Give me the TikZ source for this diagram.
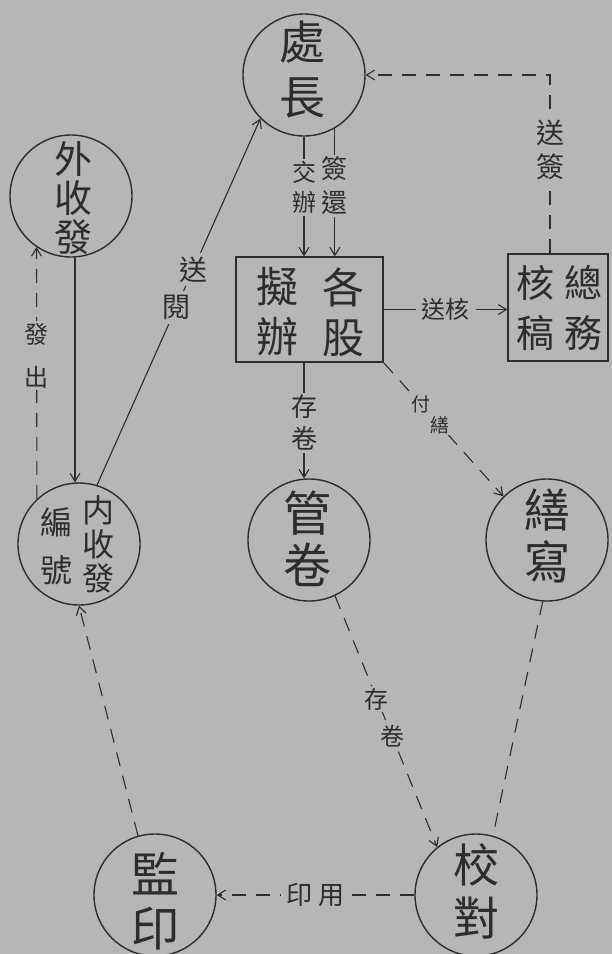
\documentclass[tikz,border=0pt]{standalone}
\usepackage{fontspec}
\newfontfamily\cjk{Noto Sans CJK TC}
\usetikzlibrary{arrows.meta}
\definecolor{bg}{RGB}{182,182,180}
\definecolor{inkc}{RGB}{45,45,45}
\tikzset{
  fz/.style 2 args={font=\cjk\fontsize{#1}{#2}\selectfont},
  ink/.style={draw=inkc, line width=1.1pt},
  circ/.style={circle, draw=inkc, line width=1.4pt, minimum size=122pt, inner sep=0pt},
  boxn/.style={rectangle, draw=inkc, line width=1.4pt, inner sep=0pt},
  txt/.style={text=inkc, inner sep=0pt, align=center},
  lbl/.style={fill=bg, text=inkc, inner sep=2pt, align=center},
  arr/.style={-{Straight Barb[length=8pt,width=10pt,line width=1.1pt]}},
  dsh/.style={dash pattern=on 14pt off 10pt},
}
\begin{document}
\begin{tikzpicture}[x=1pt,y=-1pt]
\fill[bg] (0,0) rectangle (612,954);
\useasboundingbox (0,0) rectangle (612,954);
\clip (0,0) rectangle (612,954);

% nodes
\node[circ] (chu) at (304,75) {};
\node[txt, fz={46}{55}] (chuT) at (302,70) {處\\長};

\node[circ] (wai) at (71,196) {};
\node[txt, fz={38}{39}] (waiT) at (73,198) {外\\收\\發};

\node[circ] (nei) at (79,544) {};
\node[txt, fz={32}{34}] (neiA) at (98,544) {内\\收\\發};
\node[txt, fz={32}{48}] (neiB) at (56,546) {編\\號};

\node[boxn, minimum width=147pt, minimum height=105pt] (gegu) at (309.5,309.5) {};
\node[txt, fz={42}{50}] (geguA) at (343,312) {各\\股};
\node[txt, fz={42}{50}] (geguB) at (277,312) {擬\\辦};

\node[boxn, minimum width=100pt, minimum height=107pt] (zw) at (558,307.5) {};
\node[txt, fz={38}{50}] (zwA) at (583,308) {總\\務};
\node[txt, fz={38}{50}] (zwB) at (535,308) {核\\稿};

\node[circ] (gg) at (309,540) {};
\node[txt, fz={48}{52}] (ggT) at (307,539) {管\\卷};

\node[circ] (sx) at (547,540) {};
\node[txt, fz={46}{52}] (sxT) at (547,536) {繕\\寫};

\node[circ] (jy) at (155,895) {};
\node[txt, fz={48}{54}] (jyT) at (155,901) {監\\印};

\node[circ] (jd) at (476,895) {};
\node[txt, fz={46}{53}] (jdT) at (476,891) {校\\對};

\coordinate (c1) at (550,75);
\coordinate (vx) at (75,0);

% connectors
\draw[ink,dsh,arr] (zw.north -| c1) -- node[lbl, fz={28}{34}, pos=0.58] (l1) {送\\簽} (c1) -- (chu.east);

\draw[ink,arr] (chu.south) -- node[lbl, fz={24}{30}, pos=0.425] (l2) {交\\辦} (chu.south |- gegu.north);
\draw[ink,arr] (chu.-60) -- node[lbl, fz={26}{34}, pos=0.45] (l3) {簽\\還} (chu.-60 |- gegu.north);

\draw[ink,arr] (gegu.east) -- node[lbl, fz={24}{24}, inner xsep=6pt] (l4) {送核} (gegu.east -| zw.west);

\draw[ink,arr] (wai.south -| vx) -- (nei.north -| vx);
\draw[ink,dsh,arr] (nei.133.6) -- node[lbl, fz={24}{43}, pos=0.57] (l5) {發\\出} (wai.-124);

\draw[ink,arr] (nei.73) -- node[lbl, fz={28}{28}, pos=0.484, inner sep=4pt] (l6a) {閱}
                          node[lbl, fz={28}{28}, pos=0.588, inner sep=4pt] (l6b) {送} (chu.-135.6);

\draw[ink,arr] (chu.south |- gegu.south) -- node[lbl, fz={26}{32}, pos=0.52] (l7) {存\\卷} (chu.south |- gg.north);

\draw[ink,dsh,arr] (gegu.south east) -- node[lbl, fz={19}{19}, pos=0.31, inner sep=1pt] (l8a) {付}
                                      node[lbl, fz={19}{19}, pos=0.47, inner sep=1pt] (l8b) {繕} (sx.135.6);

\draw[ink,dsh,arr] (gg.-65.8) -- node[lbl, fz={24}{24}, pos=0.41] (l9a) {存}
                                node[lbl, fz={24}{24}, pos=0.56] (l9b) {卷} (jd.129.1);

\draw[ink,dsh] (sx.-94) -- (jd.74.7);

\draw[ink,dsh,arr] (jy.106) -- (nei.south);

\draw[ink,dsh,arr] (jd.west) -- node[lbl, fz={26}{26}, inner xsep=6pt] (l10) {印\hspace{6pt}用} (jy.east);
\end{tikzpicture}
\end{document}
